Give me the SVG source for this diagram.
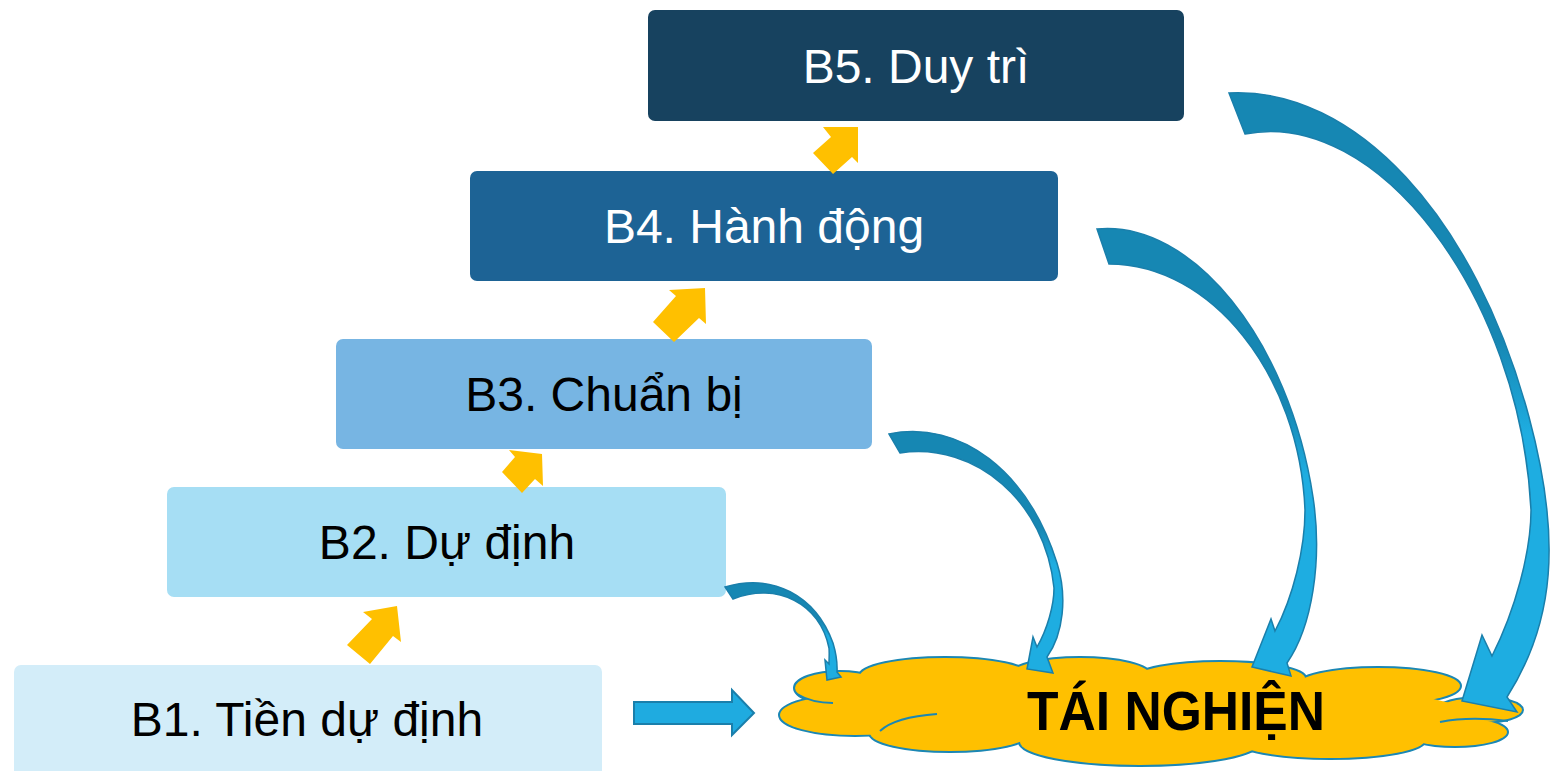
<svg xmlns="http://www.w3.org/2000/svg" width="1558" height="771" viewBox="0 0 1558 771">
<defs>
<style>
.lbl{font-family:"Liberation Sans",Arial,sans-serif;font-size:48px;text-anchor:middle}
.dark{fill:#ffffff}
.light{fill:#000000}
.yarrow{fill:#ffc000}
.carrow{fill:url(#cg);stroke:#1a7fab;stroke-width:1.5;stroke-linejoin:miter}
.sarrow{fill:#1fabe0;stroke:#1a7fab;stroke-width:2}
.lobe{fill:#ffc000;stroke:#1b87b4;stroke-width:4}
.lobefill{fill:#ffc000}
.inner{fill:none;stroke:#1b87b4;stroke-width:2}
</style>
<linearGradient id="cg" x1="0" y1="0" x2="0" y2="1">
<stop offset="0" stop-color="#1687b3"/>
<stop offset="0.4" stop-color="#1687b3"/>
<stop offset="0.55" stop-color="#1eade1"/>
<stop offset="1" stop-color="#1eade1"/>
</linearGradient>
</defs>
<rect width="1558" height="771" fill="#ffffff"/>

<g id="b5">
<rect x="648" y="10" width="536" height="111" rx="7" fill="#17425f"/>
<text class="lbl dark" x="916" y="83">B5. Duy trì</text>
</g>
<g id="b4">
<rect x="470" y="171" width="588" height="110" rx="7" fill="#1d6395"/>
<text class="lbl dark" x="764" y="243">B4. Hành động</text>
</g>
<g id="b3">
<rect x="336" y="339" width="536" height="110" rx="7" fill="#77b5e3"/>
<text class="lbl light" x="604" y="411">B3. Chuẩn bị</text>
</g>
<g id="b2">
<rect x="167" y="487" width="559" height="110" rx="7" fill="#a6def4"/>
<text class="lbl light" x="447" y="559">B2. Dự định</text>
</g>
<g id="b1">
<rect x="14" y="665" width="588" height="115" rx="7" fill="#d3edf9"/>
<text class="lbl light" x="307" y="736">B1. Tiền dự định</text>
</g>

<g id="taiNghien">
<g>
<ellipse class="lobe" cx="855" cy="715" rx="75" ry="20"/>
<ellipse class="lobe" cx="840" cy="688" rx="45" ry="16"/>
<ellipse class="lobe" cx="945" cy="676" rx="85" ry="18"/>
<ellipse class="lobe" cx="1080" cy="675" rx="70" ry="17"/>
<ellipse class="lobe" cx="1220" cy="678" rx="85" ry="16"/>
<ellipse class="lobe" cx="1378" cy="686" rx="82" ry="18"/>
<ellipse class="lobe" cx="1480" cy="710" rx="42" ry="12"/>
<ellipse class="lobe" cx="1455" cy="732" rx="52" ry="14"/>
<ellipse class="lobe" cx="1330" cy="740" rx="95" ry="18"/>
<ellipse class="lobe" cx="1140" cy="742" rx="120" ry="23"/>
<ellipse class="lobe" cx="950" cy="733" rx="80" ry="18"/>
</g>
<g>
<ellipse class="lobefill" cx="855" cy="715" rx="75" ry="20"/>
<ellipse class="lobefill" cx="840" cy="688" rx="45" ry="16"/>
<ellipse class="lobefill" cx="945" cy="676" rx="85" ry="18"/>
<ellipse class="lobefill" cx="1080" cy="675" rx="70" ry="17"/>
<ellipse class="lobefill" cx="1220" cy="678" rx="85" ry="16"/>
<ellipse class="lobefill" cx="1378" cy="686" rx="82" ry="18"/>
<ellipse class="lobefill" cx="1480" cy="710" rx="42" ry="12"/>
<ellipse class="lobefill" cx="1455" cy="732" rx="52" ry="14"/>
<ellipse class="lobefill" cx="1330" cy="740" rx="95" ry="18"/>
<ellipse class="lobefill" cx="1140" cy="742" rx="120" ry="23"/>
<ellipse class="lobefill" cx="950" cy="733" rx="80" ry="18"/>
<ellipse class="lobefill" cx="1150" cy="712" rx="300" ry="30"/>
<polygon class="lobefill" points="855,715 840,690 945,676 1080,675 1220,678 1378,686 1480,710 1455,732 1330,740 1140,742 950,733"/>
</g>
<path class="inner" d="M797,694 Q812,703 833,703"/>
<path class="inner" d="M880,731 Q895,717 937,714"/>
<path class="inner" d="M1440,722 Q1470,716 1508,721"/>
<text x="1176" y="730" font-family="'Liberation Sans',Arial,sans-serif" font-size="55" font-weight="bold" text-anchor="middle" textLength="298" lengthAdjust="spacingAndGlyphs" fill="#000000">TÁI NGHIỆN</text>
</g>

<g id="connectors">
<polygon class="yarrow" points="363,612 397,606 401,642 393,636 370,664 347,645 372,619"/>
<polygon class="yarrow" points="509,450 542,454 543,486 535,479 522,493 502,472 515,457"/>
<polygon class="yarrow" points="669,290 705,288 706,324 699,318 674,342 653,322 676,296"/>
<polygon class="yarrow" points="823,127 858,127 858,163 852,157 833,174 813,153 831,137"/>

<polygon class="sarrow" points="634,702 732,702 732,690 754,713 732,735 732,724 634,724"/>

<path class="carrow" d="M725,587 C772.2,572.8 815.4,595.2 833,643 C836,653 837.5,663 837,672 L841,677 L827,680 L825,660 L829,664 C829,659 829.5,653 829,648 C820.1,603.5 776.9,581.5 733,599 Z"/>
<path class="carrow" d="M889,434 C960.8,419.6 1028,471.2 1057,563 C1067.5,596.4 1063.5,634 1047,657 L1053,673 L1027,669 L1033,637 L1037,647 C1047.2,629.2 1054,605.6 1054,588 C1045.4,502.3 976.1,441.6 900,453 Z"/>
<path class="carrow" d="M1097,229 C1192,219.7 1289.4,340.3 1313,497 C1322.6,560.4 1312.2,626.8 1287,663 L1291,676 L1252,667 L1271,619 L1275,631 C1293,597.3 1305,548.9 1305,510 C1299.5,374.7 1211.3,264 1109,264 Z"/>
<path class="carrow" d="M1229,93 C1355,86.7 1475,216.3 1529,417 C1561.5,538 1555,622 1507,697 L1517,712 L1462,701 L1482,635 L1492,656 C1515.4,609.8 1531,551.4 1531,510 C1520.3,295.5 1377.3,107.5 1245,134 Z"/>
</g>
</svg>
